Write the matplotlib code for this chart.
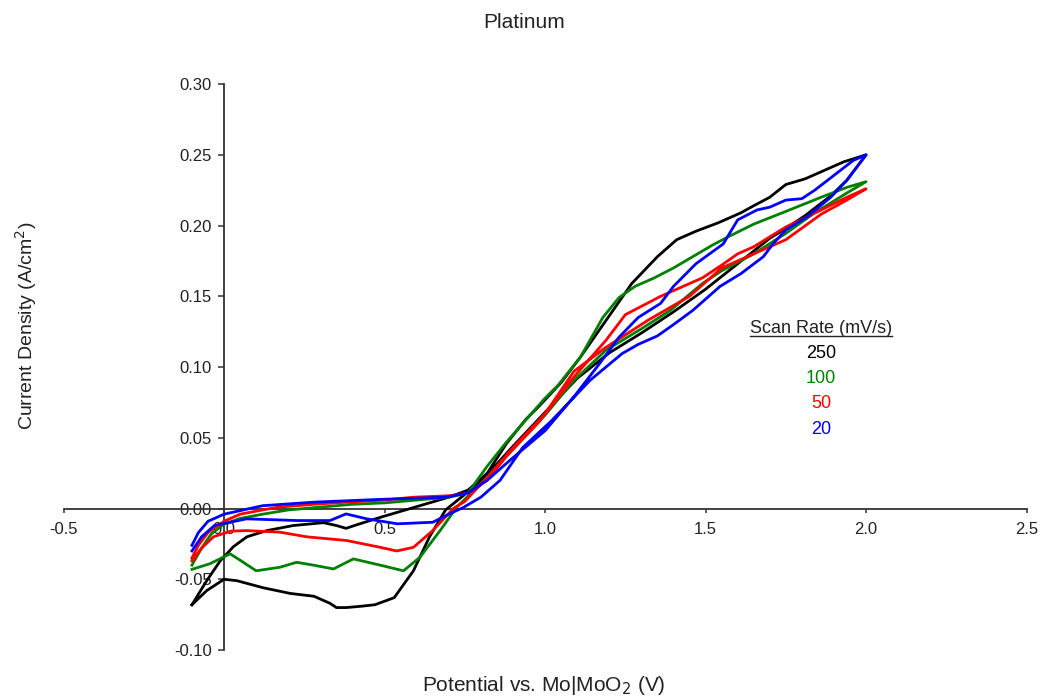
import matplotlib
matplotlib.use("Agg")
import matplotlib.pyplot as plt
import matplotlib.ticker as ticker
from matplotlib.lines import Line2D

plt.rcParams["font.family"] = ["Liberation Sans", "DejaVu Sans"]
plt.rcParams["axes.unicode_minus"] = False

# Scan rates (mV/s) and their colours
RATES = ["250", "100", "50", "20"]
COLORS = ["#000000", "#008000", "#ff0000", "#0000ff"]

# Each loop: forward sweep (-0.1 -> 2.0 V) followed by reverse sweep back to -0.1 V
E_250 = [-0.10, -0.054, -0.012, 0.029, 0.071, 0.133, 0.216, 0.31, 0.35, 0.38, 0.42, 0.49,
         0.55, 0.64, 0.70, 0.76, 0.82, 0.88, 0.94, 0.98, 1.05, 1.11, 1.19, 1.27, 1.35,
         1.41, 1.47, 1.54, 1.61, 1.65, 1.70, 1.75, 1.81, 1.86, 1.93, 2.00,
         1.97, 1.94, 1.89, 1.81, 1.75, 1.70, 1.60, 1.50, 1.40, 1.30, 1.20, 1.10, 1.00,
         0.90, 0.82, 0.75, 0.69, 0.64, 0.59, 0.53, 0.47, 0.43, 0.38, 0.35, 0.33, 0.28,
         0.206, 0.122, 0.04, 0.00, -0.054, -0.10]
J_250 = [-0.068, -0.051, -0.037, -0.027, -0.020, -0.0156, -0.012, -0.010, -0.012, -0.014,
         -0.011, -0.006, -0.002, 0.004, 0.008, 0.013, 0.025, 0.046, 0.063, 0.072, 0.089,
         0.107, 0.133, 0.159, 0.178, 0.190, 0.196, 0.202, 0.209, 0.214, 0.220, 0.229,
         0.233, 0.238, 0.245, 0.250,
         0.241, 0.232, 0.221, 0.207, 0.198, 0.191, 0.173, 0.155, 0.139, 0.124, 0.110,
         0.092, 0.068, 0.044, 0.024, 0.010, -0.001, -0.020, -0.044, -0.063, -0.068,
         -0.069, -0.070, -0.070, -0.067, -0.062, -0.060, -0.056, -0.051, -0.050, -0.058,
         -0.068]

E_100 = [-0.10, -0.07, -0.04, 0.00, 0.05, 0.12, 0.20, 0.30, 0.40, 0.50, 0.60, 0.70, 0.76,
         0.82, 0.88, 0.93, 1.00, 1.04, 1.11, 1.18, 1.23, 1.28, 1.34, 1.40, 1.46, 1.52,
         1.57, 1.65, 1.75, 1.86, 1.94, 2.00,
         1.94, 1.84, 1.75, 1.65, 1.55, 1.49, 1.39, 1.30, 1.19, 1.09, 1.00, 0.90, 0.82,
         0.725, 0.673, 0.61, 0.559, 0.486, 0.403, 0.341, 0.278, 0.226, 0.174, 0.10,
         0.06, 0.019, -0.044, -0.10]
J_100 = [-0.040, -0.028, -0.018, -0.011, -0.007, -0.004, -0.001, 0.001, 0.003, 0.004,
         0.006, 0.008, 0.011, 0.030, 0.047, 0.060, 0.078, 0.087, 0.107, 0.135, 0.149,
         0.157, 0.163, 0.170, 0.178, 0.186, 0.192, 0.201, 0.210, 0.220, 0.227, 0.231,
         0.223, 0.209, 0.1945, 0.180, 0.168, 0.159, 0.140, 0.127, 0.112, 0.0906, 0.066,
         0.042, 0.022, 0.001, -0.0156, -0.0345, -0.044, -0.040, -0.0356, -0.0427, -0.040,
         -0.038, -0.0415, -0.044, -0.038, -0.032, -0.039, -0.043]

E_50 = [-0.10, -0.08, -0.05, 0.00, 0.05, 0.12, 0.17, 0.28, 0.38, 0.50, 0.59, 0.70, 0.76,
        0.82, 0.88, 0.98, 1.09, 1.19, 1.25, 1.36, 1.49, 1.55, 1.60, 1.65, 1.75, 1.86,
        1.94, 2.00,
        1.94, 1.86, 1.75, 1.65, 1.55, 1.45, 1.32, 1.19, 1.09, 1.00, 0.90, 0.82, 0.75,
        0.714, 0.65, 0.59, 0.538, 0.486, 0.382, 0.258, 0.174, 0.07, 0.02, -0.033, -0.07,
        -0.10]
J_50 = [-0.035, -0.026, -0.017, -0.009, -0.004, -0.001, 0.001, 0.003, 0.0045, 0.006,
        0.008, 0.009, 0.011, 0.020, 0.037, 0.061, 0.093, 0.119, 0.137, 0.150, 0.163,
        0.172, 0.180, 0.185, 0.199, 0.211, 0.220, 0.226,
        0.218, 0.208, 0.190, 0.180, 0.170, 0.150, 0.133, 0.114, 0.097, 0.067, 0.043,
        0.022, 0.005, 0.000, -0.0156, -0.0274, -0.030, -0.0274, -0.0226, -0.020, -0.0167,
        -0.0156, -0.016, -0.020, -0.028, -0.037]

E_20 = [-0.10, -0.08, -0.05, 0.00, 0.06, 0.12, 0.28, 0.49, 0.69, 0.76, 0.82, 0.89, 1.00,
        1.09, 1.17, 1.23, 1.29, 1.36, 1.40, 1.47, 1.555, 1.60, 1.66, 1.70, 1.75, 1.80,
        1.84, 1.88, 1.92, 1.96, 2.00,
        1.94, 1.89, 1.815, 1.75, 1.71, 1.68, 1.61, 1.545, 1.46, 1.40, 1.35, 1.29, 1.24,
        1.14, 1.02, 0.93, 0.86, 0.80, 0.745, 0.70, 0.65, 0.54, 0.445, 0.38, 0.33, 0.23,
        0.07, -0.03, -0.07, -0.10]
J_20 = [-0.026, -0.017, -0.009, -0.004, -0.001, 0.002, 0.0045, 0.0065, 0.008, 0.011,
        0.020, 0.034, 0.055, 0.079, 0.1025, 0.121, 0.135, 0.145, 0.157, 0.173, 0.187,
        0.204, 0.211, 0.213, 0.218, 0.219, 0.225, 0.232, 0.239, 0.246, 0.250,
        0.232, 0.220, 0.206, 0.197, 0.187, 0.178, 0.166, 0.157, 0.140, 0.130, 0.122,
        0.116, 0.1095, 0.0906, 0.062, 0.043, 0.020, 0.008, 0.0007, -0.004, -0.0097,
        -0.0108, -0.0073, -0.0038, -0.0085, -0.0085, -0.0073, -0.012, -0.020, -0.030]

SERIES = [(E_250, J_250), (E_100, J_100), (E_50, J_50), (E_20, J_20)]

fig = plt.figure(figsize=(10.4, 6.97), dpi=100)
ax = fig.add_axes([0.0611, 0.0674, 0.926, 0.812])

for (e, j), c in zip(SERIES, COLORS):
    ax.plot(e, j, color=c, lw=2.0, zorder=3, solid_joinstyle="round")

ax.set_xlim(-0.5, 2.5)
ax.set_ylim(-0.10, 0.30)
ax.xaxis.set_major_locator(ticker.MultipleLocator(0.5))
ax.yaxis.set_major_locator(ticker.MultipleLocator(0.05))
ax.xaxis.set_major_formatter(ticker.FormatStrFormatter("%.1f"))
ax.yaxis.set_major_formatter(ticker.FormatStrFormatter("%.2f"))

for side in ["top", "right"]:
    ax.spines[side].set_visible(False)
ax.spines["left"].set_position(("data", 0))
ax.spines["bottom"].set_position(("data", 0))
for side in ["left", "bottom"]:
    ax.spines[side].set_color("#333333")
    ax.spines[side].set_linewidth(1.3)
ax.tick_params(axis="both", direction="out", colors="#333333", width=1.1,
               labelcolor="#222222", labelsize=12)
ax.tick_params(axis="x", length=3, pad=7)
ax.tick_params(axis="y", length=4, pad=5)

fig.text(0.504, 0.968, "Platinum", ha="center", va="center", fontsize=15, color="#222222")
fig.text(0.523, 0.017, "Potential vs. Mo|MoO$_2$ (V)", ha="center", va="center",
         fontsize=15, color="#222222")
fig.text(0.025, 0.533, "Current Density (A/cm$^2$)", ha="center", va="center",
         rotation=90, fontsize=14, color="#222222")

# legend-like text block
hdr = ax.text(1.86, 0.1274, "Scan Rate (mV/s)", ha="center", va="center", fontsize=13,
              color="#222222")
for i, (r, c) in enumerate(zip(RATES, COLORS)):
    ax.text(1.86, 0.1097 - i * 0.0179, r, ha="center", va="center", fontsize=13, color=c)

fig.canvas.draw()
bb = hdr.get_window_extent().transformed(fig.transFigure.inverted())
fig.add_artist(Line2D([bb.x0, bb.x1], [bb.y0 + 0.001, bb.y0 + 0.001],
                      transform=fig.transFigure, color="#222222", lw=1.0))

fig.savefig("out.png", dpi=100)
